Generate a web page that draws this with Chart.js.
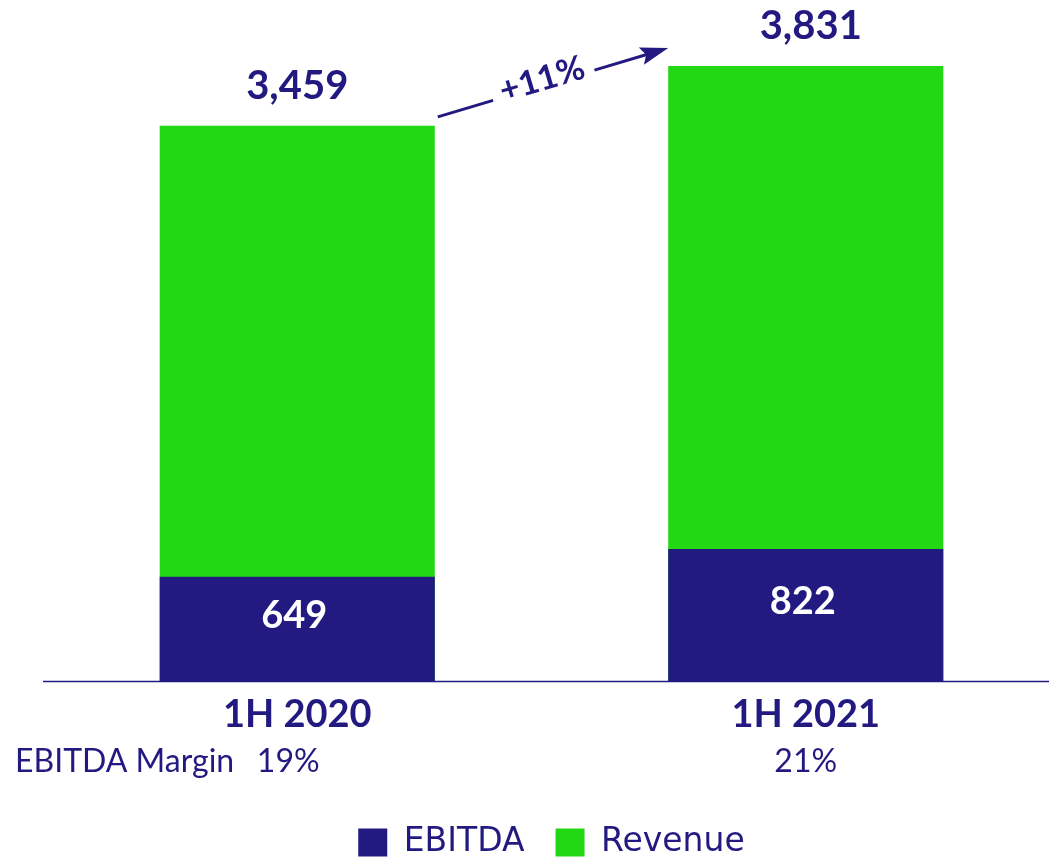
<!DOCTYPE html>
<html>
<head>
<meta charset="utf-8">
<script src="https://cdn.jsdelivr.net/npm/chart.js@4.4.1/dist/chart.umd.min.js"></script>
<style>
  html, body { margin: 0; padding: 0; background: #fff; overflow: hidden; }
  #wrap { width: 1060px; height: 869px; position: relative; }
</style>
</head>
<body>
<div id="wrap"><canvas id="chart"></canvas></div>
<script>
const periods = ["1H 2020", "1H 2021"];
const ebitda = [649, 822];
const revenue = [3459, 3831];
const margins = ["19%", "21%"];
const marginLabel = "EBITDA Margin";
const growthLabel = "+11%";

const NAVY = "#221A80";
const GREEN = "#22D812";

const overlay = {
  id: "overlay",
  afterDatasetsDraw(chart) {
    const { ctx, chartArea, scales } = chart;
    const x = scales.x, y = scales.y;
    const revBars = chart.getDatasetMeta(1).data;
    const ebBars = chart.getDatasetMeta(0).data;
    ctx.save();

    // baseline
    ctx.strokeStyle = NAVY;
    ctx.lineWidth = 1.5;
    ctx.beginPath();
    ctx.moveTo(chartArea.left, y.getPixelForValue(0) + 0.5);
    ctx.lineTo(chartArea.right, y.getPixelForValue(0) + 0.5);
    ctx.stroke();

    ctx.textAlign = "center";
    ctx.textBaseline = "middle";

    // totals above bars
    ctx.fillStyle = NAVY;
    ctx.font = "bold 40px Lato";
    revBars.forEach((b, i) => {
      ctx.fillText(revenue[i].toLocaleString("en-US"), b.x + (i ? 5 : 0), b.y - 40);
    });

    // EBITDA values inside bars
    ctx.fillStyle = "#fff";
    ctx.font = "bold 38px Lato";
    ebBars.forEach((b, i) => {
      ctx.fillText(String(ebitda[i]), b.x - 3, (b.y + b.base) / 2 - 13);
    });

    // margin row
    ctx.fillStyle = NAVY;
    ctx.font = "32px Lato";
    const my = 762;
    ctx.textAlign = "left";
    ctx.fillText(marginLabel, 15, my);
    ctx.textAlign = "center";
    margins.forEach((m, i) => {
      const cx = x.getPixelForValue(i) - (i === 0 ? 9 : 0);
      ctx.fillText(m, cx, my);
    });

    // growth arrow
    const b0 = revBars[0], b1 = revBars[1];
    const x0 = b0.x + b0.width / 2 + 3, y0 = b0.y - 9;
    const x1 = b1.x - b1.width / 2, y1 = b1.y - 18;
    const ang = Math.atan2(y1 - y0, x1 - x0);
    const len = Math.hypot(x1 - x0, y1 - y0);
    ctx.translate(x0, y0);
    ctx.rotate(ang);
    ctx.strokeStyle = NAVY;
    ctx.lineWidth = 3;
    ctx.beginPath();
    ctx.moveTo(0, 0);
    ctx.lineTo(len * 0.24, 0);
    ctx.moveTo(len * 0.68, 0);
    ctx.lineTo(len - 18, 0);
    ctx.stroke();
    ctx.fillStyle = NAVY;
    ctx.beginPath();
    ctx.moveTo(len, 0);
    ctx.lineTo(len - 28, -9);
    ctx.lineTo(len - 23, 0);
    ctx.lineTo(len - 28, 9);
    ctx.closePath();
    ctx.fill();
    ctx.font = "bold 34px Lato";
    ctx.textAlign = "center";
    ctx.fillText(growthLabel, len * 0.46, -6);
    ctx.restore();
  }
};

new Chart(document.getElementById("chart"), {
  type: "bar",
  data: {
    labels: periods,
    datasets: [
      { label: "EBITDA", data: ebitda, backgroundColor: NAVY },
      { label: "Revenue", data: revenue, backgroundColor: GREEN },
    ],
  },
  options: {
    responsive: true,
    maintainAspectRatio: false,
    animation: false,
    layout: { padding: { left: 43, right: 0, top: 39, bottom: 0 } },
    datasets: { bar: { categoryPercentage: 1, barPercentage: 0.541, grouped: false } },
    plugins: {
      legend: {
        position: "bottom",
        labels: {
          color: NAVY,
          font: { family: "DejaVu Sans", size: 33 },
          boxWidth: 29,
          boxHeight: 28,
          padding: 31,
        },
      },
      tooltip: { enabled: false },
    },
    scales: {
      x: {
        grid: { display: false },
        border: { display: false },
        ticks: { color: NAVY, font: { family: "Lato", size: 38, weight: "bold" }, padding: 3 },
        afterFit(scale) { scale.height = 114; },
      },
      y: {
        display: false,
        min: 0,
        max: 4000,
      },
    },
  },
  plugins: [overlay],
});
</script>
</body>
</html>
